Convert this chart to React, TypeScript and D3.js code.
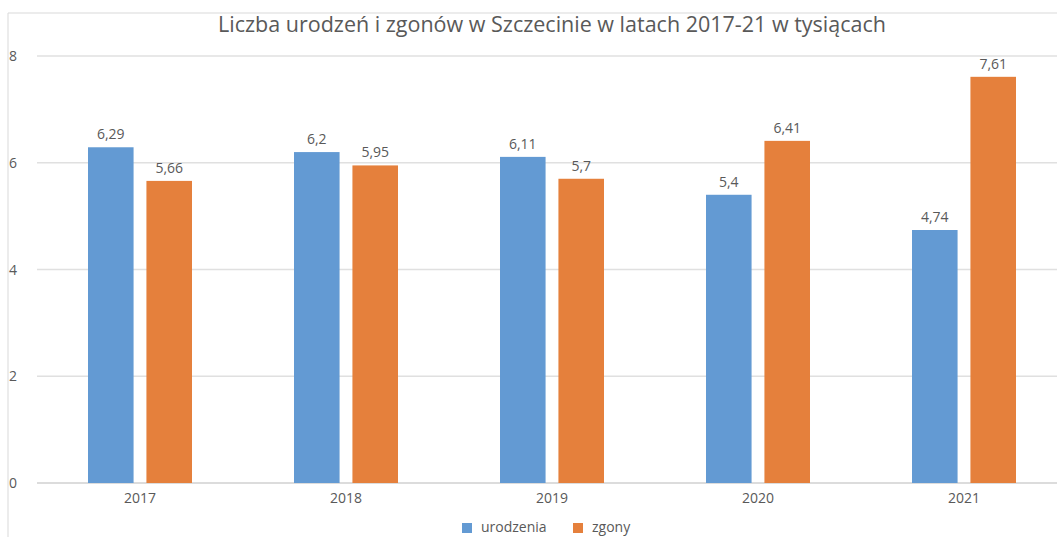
import * as d3 from "d3"

const years = ["2017", "2018", "2019", "2020", "2021"]
const urodzenia = [6.29, 6.2, 6.11, 5.4, 4.74]
const zgony = [5.66, 5.95, 5.7, 6.41, 7.61]
const seriesNames = ["urodzenia", "zgony"]
const yTicks = [0, 2, 4, 6, 8]

const COLORS: Record<string, string> = {
  urodzenia: "#639ad3",
  zgony: "#e5803c",
}

const W = 1057
const H = 537
const FONT = "'Open Sans', 'DejaVu Sans', sans-serif"
const TEXT = "#595959"

const fmt = (v: number) => String(v).replace(".", ",")

export default function App() {
  const x0 = d3.scaleBand<string>().domain(years).range([37, 1067]).padding(0)
  const x1 = d3.scaleBand<string>().domain(seriesNames).range([0, 104]).paddingInner(0.22).paddingOuter(0)
  const y = d3.scaleLinear().domain([0, 8]).range([483, 56])

  const values: Record<string, number[]> = { urodzenia, zgony }

  return (
    <svg
      width={W}
      height={H}
      style={{ position: "absolute", left: 0, top: 0, background: "#fff" }}
      fontFamily={FONT}
    >
      {/* chart border (cropped) */}
      <path d={`M8,${H} V13 H${W}`} fill="none" stroke="#d9d9d9" strokeWidth={1} />

      <text x={552} y={32} textAnchor="middle" fontSize={21.5} fill={TEXT}>
        Liczba urodzeń i zgonów w Szczecinie w latach 2017-21 w tysiącach
      </text>

      {/* gridlines */}
      {yTicks.map((t) => (
        <g key={t}>
          <line x1={37} x2={W} y1={y(t)} y2={y(t)} stroke={t === 0 ? "#d0d0d0" : "#e0e0e0"} strokeWidth={1.3} />
          <text x={13} y={y(t) + 5} textAnchor="middle" fontSize={14} fill={TEXT}>
            {t}
          </text>
        </g>
      ))}

      {/* bars */}
      {years.map((yr, i) => {
        const cx = x0(yr)! + x0.bandwidth() / 2
        return (
          <g key={yr}>
            {seriesNames.map((s) => {
              const v = values[s][i]
              const bx = cx - 52 + x1(s)!
              return (
                <g key={s}>
                  <rect x={bx} y={y(v)} width={x1.bandwidth()} height={y(0) - y(v)} fill={COLORS[s]} />
                  <text
                    x={bx + x1.bandwidth() / 2}
                    y={y(v) - 8}
                    textAnchor="middle"
                    fontSize={14}
                    fill={TEXT}
                  >
                    {fmt(v)}
                  </text>
                </g>
              )
            })}
            <text x={cx} y={503} textAnchor="middle" fontSize={14} fill={TEXT}>
              {yr}
            </text>
          </g>
        )
      })}

      {/* legend */}
      <rect x={462} y={523} width={10} height={10} fill={COLORS.urodzenia} />
      <text x={481} y={532} fontSize={14} fill={TEXT}>
        urodzenia
      </text>
      <rect x={573} y={523} width={10} height={10} fill={COLORS.zgony} />
      <text x={592} y={532} fontSize={14} fill={TEXT}>
        zgony
      </text>
    </svg>
  )
}
